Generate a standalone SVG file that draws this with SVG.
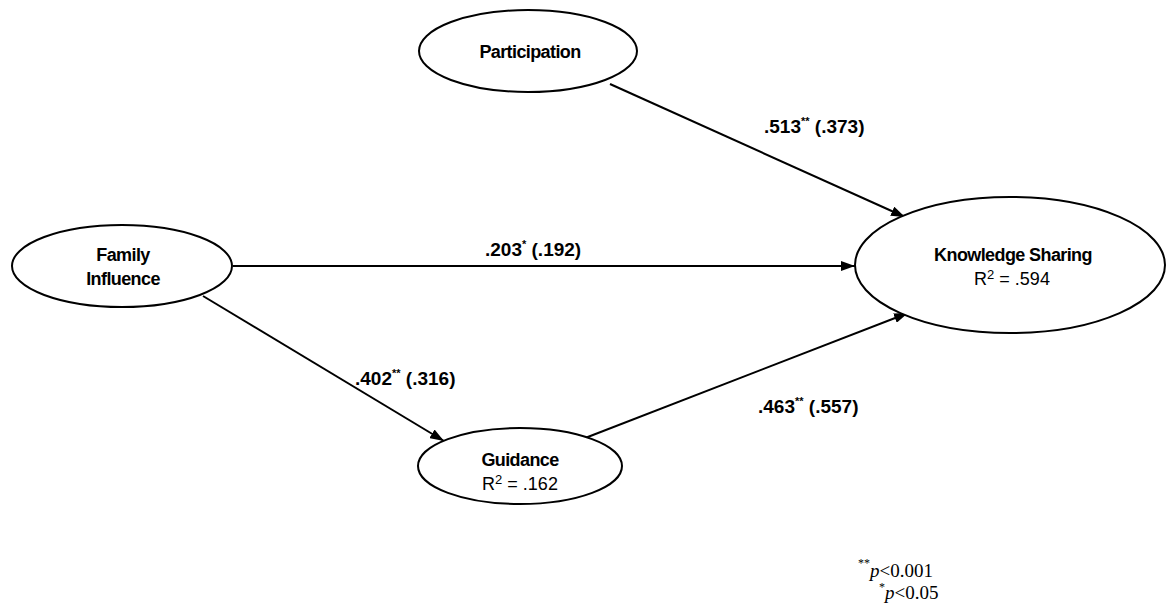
<svg xmlns="http://www.w3.org/2000/svg" width="1167" height="614" viewBox="0 0 1167 614">
<style>
.node{fill:#fff;stroke:#000;stroke-width:2}
.nt{font-family:"Liberation Sans",Arial,sans-serif;font-weight:bold;font-size:18px;letter-spacing:-0.6px;text-anchor:middle;fill:#000}
.nr{font-family:"Liberation Sans",Arial,sans-serif;font-size:18px;text-anchor:middle;fill:#000}
.lbl{font-family:"Liberation Sans",Arial,sans-serif;font-weight:bold;font-size:19px;fill:#000}
.sup{font-size:11px}
.edge{stroke:#000;stroke-width:2;fill:none;marker-end:url(#ah)}
.fn{font-family:"Liberation Serif","Times New Roman",serif;font-size:19px;fill:#000}
</style>
<defs>
<marker id="ah" viewBox="0 0 14 10" refX="14" refY="5" markerWidth="14" markerHeight="10" markerUnits="userSpaceOnUse" orient="auto">
<path d="M0,0 L14,5 L0,10 z" fill="#000"/>
</marker>
</defs>
<g id="connectors">
<path d="M610,84 L905,217" class="edge"/>
<path d="M233,266 L855,266" class="edge"/>
<path d="M203,296 L444,441" class="edge"/>
<path d="M580,440 L908,313" class="edge"/>
</g>
<g id="participation">
<ellipse class="node" cx="528" cy="51" rx="109" ry="41"/>
<text class="nt" x="530" y="58">Participation</text>
</g>
<g id="family-influence">
<ellipse class="node" cx="122" cy="266" rx="110" ry="41"/>
<text class="nt" x="123" y="261">Family</text>
<text class="nt" x="123" y="285">Influence</text>
</g>
<g id="knowledge-sharing">
<ellipse class="node" cx="1010" cy="265" rx="155" ry="68"/>
<text class="nt" x="1013" y="261">Knowledge Sharing</text>
<text class="nr" x="1012" y="285">R<tspan font-size="13" dy="-6">2</tspan><tspan dy="6"> = .594</tspan></text>
</g>
<g id="guidance">
<ellipse class="node" cx="520" cy="466" rx="102" ry="38"/>
<text class="nt" x="520" y="466">Guidance</text>
<text class="nr" x="520" y="490">R<tspan font-size="13" dy="-6">2</tspan><tspan dy="6"> = .162</tspan></text>
</g>
<g id="labels">
<text class="lbl" x="764" y="133">.513<tspan class="sup" dy="-8">**</tspan><tspan dy="8"> (.373)</tspan></text>
<text class="lbl" x="485" y="256">.203<tspan class="sup" dy="-8">*</tspan><tspan dy="8"> (.192)</tspan></text>
<text class="lbl" x="355" y="385">.402<tspan class="sup" dy="-8">**</tspan><tspan dy="8"> (.316)</tspan></text>
<text class="lbl" x="758" y="413">.463<tspan class="sup" dy="-8">**</tspan><tspan dy="8"> (.557)</tspan></text>
</g>
<g id="footnote">
<text class="fn" x="858" y="577"><tspan font-size="12" dy="-10">**</tspan><tspan font-style="italic" dy="10">p</tspan>&lt;0.001</text>
<text class="fn" x="879" y="599"><tspan font-size="12" dy="-8">*</tspan><tspan font-style="italic" dy="8">p</tspan>&lt;0.05</text>
</g>
</svg>
